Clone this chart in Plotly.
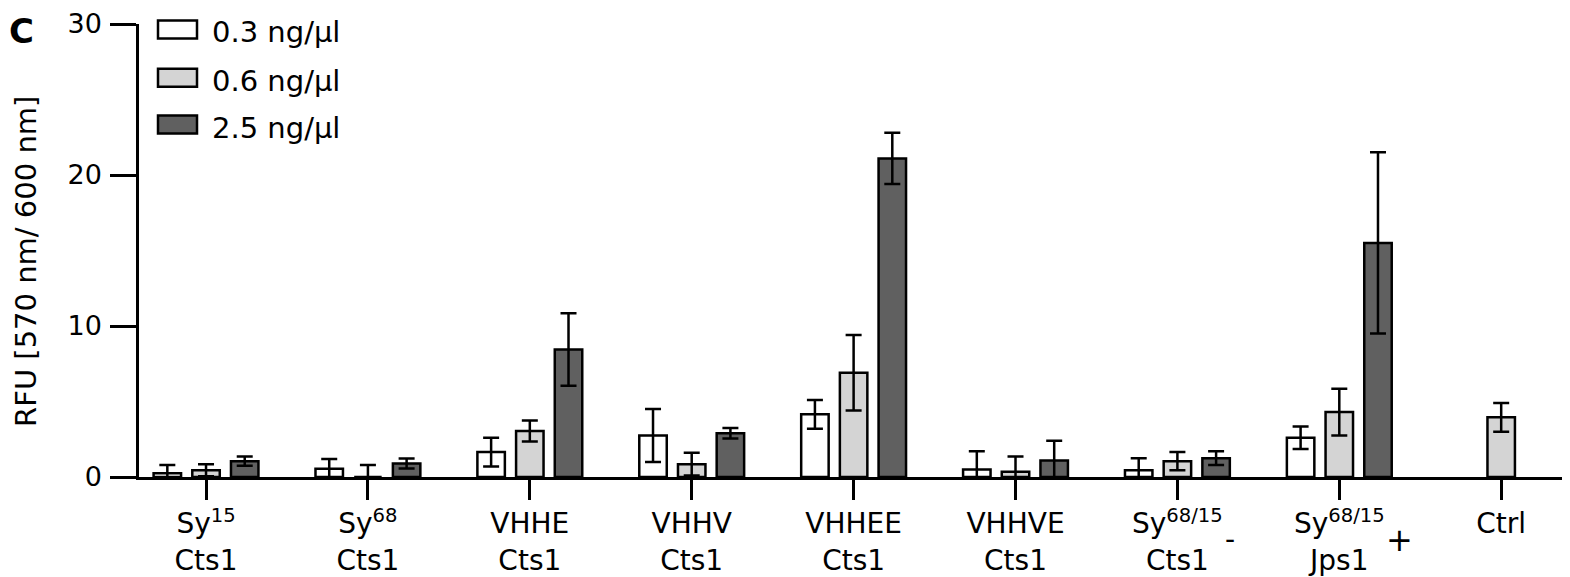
import plotly.graph_objects as go

# ---------------- data ----------------
categories = [
    "Sy<sup>15</sup><br>Cts1",
    "Sy<sup>68</sup><br>Cts1",
    "VHHE<br>Cts1",
    "VHHV<br>Cts1",
    "VHHEE<br>Cts1",
    "VHHVE<br>Cts1",
    "Sy<sup>68/15</sup><br>Cts1",
    "Sy<sup>68/15</sup><br>Jps1",
    "Ctrl",
]
series_names = ["0.3 ng/µl", "0.6 ng/µl", "2.5 ng/µl"]

vals_03 = [0.25, 0.55, 1.65, 2.75, 4.15, 0.5, 0.45, 2.6, None]
errs_03 = [0.55, 0.65, 0.95, 1.75, 0.95, 1.2, 0.8, 0.75, None]
vals_06 = [0.45, 0.0, 3.05, 0.85, 6.9, 0.35, 1.05, 4.3, 3.95]
errs_06 = [0.4, 0.8, 0.7, 0.75, 2.5, 1.0, 0.6, 1.55, 0.95]
vals_25 = [1.05, 0.9, 8.45, 2.9, 21.1, 1.1, 1.25, 15.5, None]
errs_25 = [0.3, 0.33, 2.4, 0.35, 1.7, 1.3, 0.45, 6.0, None]

y_ticks = [0, 10, 20, 30]
sign_marks = {6: "-", 7: "+"}

# ---------------- style ----------------
OFF = 8                      # page body margin of the html page
W, H = 1570 - OFF, 577 - OFF
L, R, T, B = 131, 0, 14, 100
PW, PH = W - L - R, H - T - B
FONT = "DejaVu Sans, Liberation Sans, Arial, sans-serif"
fills = ["#ffffff", "#d4d4d4", "#606060"]
LW = 2.5


def px_x(x):
    """page pixel x -> paper coordinate"""
    return (x - OFF - L) / PW


def px_y(y):
    """page pixel y -> paper coordinate"""
    return (H - B - (y - OFF)) / PH


fig = go.Figure()
for name, vals, errs, fill in zip(series_names,
                                  [vals_03, vals_06, vals_25],
                                  [errs_03, errs_06, errs_25], fills):
    fig.add_trace(go.Bar(
        x=categories, y=vals, name=name, showlegend=False,
        marker=dict(color=fill, line=dict(color="black", width=LW)),
        error_y=dict(type="data", array=errs, visible=True,
                     color="black", thickness=2.5, width=8),
    ))

# custom legend (wide rectangles like the original)
legend_centers = [27.5, 76, 123]
shapes = []
annotations = []
for name, fill, cy in zip(series_names, fills, legend_centers):
    shapes.append(dict(type="rect", xref="paper", yref="paper",
                       x0=px_x(158), x1=px_x(197),
                       y0=px_y(cy + 9), y1=px_y(cy - 9),
                       fillcolor=fill, line=dict(color="black", width=LW)))
    annotations.append(dict(xref="paper", yref="paper", x=px_x(210), y=px_y(cy + 3),
                            xanchor="left", yanchor="middle", showarrow=False,
                            text=name, font=dict(family=FONT, size=29, color="black")))

# panel letter
annotations.append(dict(xref="paper", yref="paper", x=px_x(8), y=px_y(8),
                        xanchor="left", yanchor="top", showarrow=False,
                        borderpad=0,
                        text="<b>C</b>", font=dict(family=FONT, size=34, color="black")))
# y-axis title
annotations.append(dict(xref="paper", yref="paper", x=px_x(8), y=px_y(261),
                        xanchor="left", yanchor="middle", showarrow=False,
                        borderpad=0,
                        textangle=-90, text="RFU [570 nm/ 600 nm]",
                        font=dict(family=FONT, size=29, color="black")))
# +/- marks beside labels
for idx, mark in sign_marks.items():
    annotations.append(dict(xref="x", yref="paper", x=idx, y=px_y(540),
                            xshift=53 if mark == "-" else 60,
                            xanchor="center", yanchor="middle", showarrow=False,
                            text=mark,
                            font=dict(family=FONT, size=28 if mark == "-" else 32,
                                      color="black")))

fig.update_layout(
    width=W, height=H,
    margin=dict(l=L, r=R, t=T, b=B, pad=0),
    paper_bgcolor="white", plot_bgcolor="white",
    barmode="group", bargap=0.283, bargroupgap=0.29,
    font=dict(family=FONT, color="black"),
    shapes=shapes, annotations=annotations,
    showlegend=False,
)
fig.update_xaxes(
    type="category", range=[-0.414, 8.425],
    showline=True, linecolor="black", linewidth=LW,
    ticks="outside", ticklen=20, tickwidth=LW, tickcolor="black",
    tickfont=dict(family=FONT, size=28, color="black"),
    showgrid=False, zeroline=False,
)
fig.update_yaxes(
    range=[0, 30], tickvals=y_ticks,
    showline=True, linecolor="black", linewidth=LW,
    ticks="outside", ticklen=26, tickwidth=LW, tickcolor="black",
    ticklabelstandoff=3, ticklabeloverflow="allow",
    tickfont=dict(family=FONT, size=27, color="black"),
    showgrid=False, zeroline=False,
)

fig.write_html("out.html")
